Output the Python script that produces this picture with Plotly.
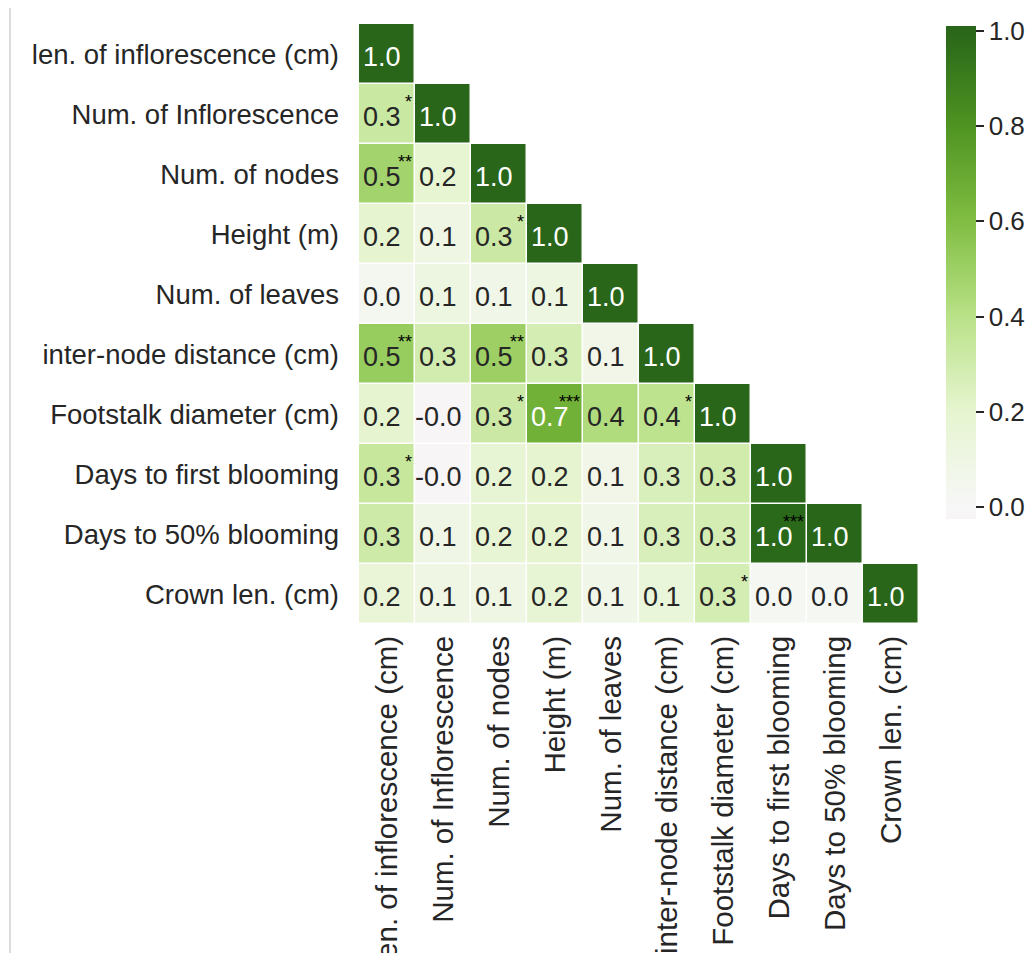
import plotly.graph_objects as go

labels = [
    "len. of inflorescence (cm)",
    "Num. of Inflorescence",
    "Num. of nodes",
    "Height (m)",
    "Num. of leaves",
    "inter-node distance (cm)",
    "Footstalk diameter (cm)",
    "Days to first blooming",
    "Days to 50% blooming",
    "Crown len. (cm)",
]

# lower-triangular correlation values (row i, columns 0..i)
corr_rows = [
    [1.00],
    [0.33, 1.00],
    [0.48, 0.19, 1.00],
    [0.20, 0.10, 0.32, 1.00],
    [0.04, 0.12, 0.08, 0.12, 1.00],
    [0.52, 0.29, 0.50, 0.28, 0.07, 1.00],
    [0.20, -0.02, 0.32, 0.66, 0.43, 0.38, 1.00],
    [0.34, -0.02, 0.18, 0.20, 0.07, 0.26, 0.30, 1.00],
    [0.31, 0.09, 0.18, 0.20, 0.08, 0.26, 0.28, 0.99, 1.00],
    [0.17, 0.10, 0.10, 0.18, 0.08, 0.15, 0.28, 0.02, 0.02, 1.00],
]

star_rows = [
    [""],
    ["*", ""],
    ["**", "", ""],
    ["", "", "*", ""],
    ["", "", "", "", ""],
    ["**", "", "**", "", "", ""],
    ["", "", "*", "***", "", "*", ""],
    ["*", "", "", "", "", "", "", ""],
    ["", "", "", "", "", "", "", "***", ""],
    ["", "", "", "", "", "", "*", "", "", ""],
]

cbar_ticks = [0.0, 0.2, 0.4, 0.6, 0.8, 1.0]

ZMIN, ZMAX = -0.025, 1.01
VRANGE = max(ZMAX, -ZMIN)

# PiYG anchors (colormap position -> colour)
piyg = [
    (0.4, (253, 224, 239)),
    (0.5, (247, 247, 247)),
    (0.6, (230, 245, 208)),
    (0.7, (184, 225, 134)),
    (0.8, (127, 188, 65)),
    (0.9, (77, 146, 33)),
    (1.0, (39, 100, 25)),
]


def piyg_at(p):
    for (p0, c0), (p1, c1) in zip(piyg[:-1], piyg[1:]):
        if p0 <= p <= p1:
            f = (p - p0) / (p1 - p0)
            return tuple(c0[k] + f * (c1[k] - c0[k]) for k in range(3))
    return piyg[-1][1] if p > 1 else piyg[0][1]


def rgb(c):
    return "rgb(%d,%d,%d)" % tuple(round(x) for x in c)


def val_to_pos(v):
    return 0.5 + v / (2 * VRANGE)


colorscale = []
inner = [(p - 0.5) * 2 * VRANGE for p, _ in piyg]
vals = [ZMIN] + [v for v in inner if ZMIN < v < ZMAX] + [ZMAX]
for v in vals:
    t = (v - ZMIN) / (ZMAX - ZMIN)
    colorscale.append([min(max(t, 0), 1), rgb(piyg_at(val_to_pos(v)))])

n = len(labels)
z = []
for i in range(n):
    z.append(list(corr_rows[i]) + [None] * (n - len(corr_rows[i])))

# figure geometry (figure div sits at an 8px body offset)
W, H = 1019, 945
L, R, T, B = 351, 108, 16, 329
PW, PH = W - L - R, H - T - B

fig = go.Figure()
fig.add_trace(go.Heatmap(
    z=z, x=labels, y=labels,
    zmin=ZMIN, zmax=ZMAX,
    colorscale=colorscale,
    xgap=1.5, ygap=1.5,
    hoverongaps=False,
    colorbar=dict(
        thickness=30,
        lenmode="pixels", len=493,
        y=(PH - 2) / PH, yanchor="top",
        x=(PW + 27) / PW, xanchor="left",
        xpad=0, ypad=0,
        outlinewidth=0,
        tickvals=cbar_ticks,
        tickformat=".1f",
        ticks="outside", ticklen=8, tickwidth=2, tickcolor="#262626",
        tickfont=dict(size=26, color="#262626"),
    ),
))

annotations = []
for i in range(n):
    for j, v in enumerate(corr_rows[i]):
        annotations.append(dict(
            x=labels[j], y=labels[i], xref="x", yref="y",
            text="%.1f" % v, showarrow=False,
            font=dict(size=27, color="white" if v > 0.6 else "#262626"),
            xshift=-5, yshift=-3,
        ))
        s = star_rows[i][j]
        if s:
            annotations.append(dict(
                x=labels[j], y=labels[i], xref="x", yref="y",
                text=s, showarrow=False, xanchor="right", yanchor="middle",
                font=dict(size=18, color="black"),
                xshift=27, yshift=12,
            ))

fig.update_layout(
    width=W, height=H,
    margin=dict(l=L, r=R, t=T, b=B, autoexpand=False),
    plot_bgcolor="white", paper_bgcolor="white",
    font=dict(family="Arial, Liberation Sans, sans-serif", color="#262626"),
    annotations=annotations,
    xaxis=dict(
        tickangle=-90, tickfont=dict(size=29.5, color="#262626"),
        showgrid=False, zeroline=False, showline=False, ticks="",
        ticklabelstandoff=5, automargin=False,
    ),
    yaxis=dict(
        autorange="reversed", tickfont=dict(size=27.5, color="#262626"),
        showgrid=False, zeroline=False, showline=False, ticks="",
        ticklabelstandoff=19, automargin=False,
    ),
    shapes=[dict(
        type="line", xref="paper", yref="paper",
        x0=(2 - L) / PW, x1=(2 - L) / PW,
        y0=(PH + T) / PH, y1=-(B + 20) / PH,
        line=dict(color="#d0d0d0", width=1.5),
    )],
)

fig.write_html("out.html")
